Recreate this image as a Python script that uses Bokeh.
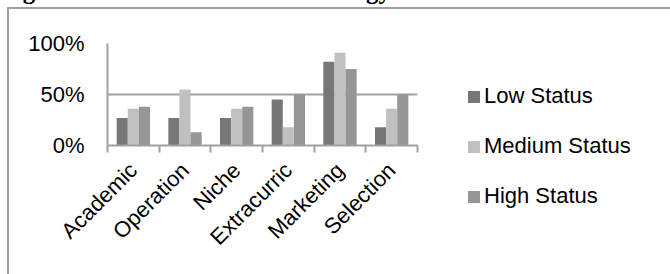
import math
from bokeh.plotting import figure
from bokeh.models import (ColumnDataSource, Range1d, FixedTicker, PrintfTickFormatter,
                          CustomJSTickFormatter, Legend, LegendItem)
from bokeh.transform import dodge
from bokeh.embed import file_html
from bokeh.resources import INLINE

title_text = "Figure 3: School Status and Strategy"
categories = ["Academic", "Operation", "Niche", "Extracurric", "Marketing", "Selection"]
low_status = [27, 27, 27, 45, 82, 18]
medium_status = [36, 55, 36, 18, 91, 36]
high_status = [38, 13, 38, 50, 75, 50]
series_names = ["Low Status", "Medium Status", "High Status"]
y_ticks = [0, 50, 100]

colors = ["#777777", "#c0c0c0", "#969696"]
FONT = "Liberation Sans"
LINE = "#a0a0a0"

TOP = 114      # height of the top panel (title area), partly hidden above the page
SHIFT = 71     # how far the canvas is pulled up so the frame starts at y=43

n = len(categories)
centers = [i + 0.5 for i in range(n)]
source = ColumnDataSource(dict(x=centers, cat=categories, low=low_status,
                               med=medium_status, high=high_status))

p = figure(frame_width=310, frame_height=102, output_backend="svg", toolbar_location=None,
           x_range=Range1d(0, n), y_range=Range1d(0, 100),
           min_border_left=107, min_border_right=245, min_border_top=TOP, min_border_bottom=129)
p.outline_line_color = None
p.background_fill_color = "white"
p.border_fill_color = None
p.styles = {
    "margin-top": "-%dpx" % SHIFT,
    "background": ("linear-gradient(%s,%s) 7px %dpx / 100%% 2px no-repeat, "
                   "linear-gradient(%s,%s) 7px %dpx / 2px 100%% no-repeat, white")
    % (LINE, LINE, SHIFT + 7, LINE, LINE, SHIFT + 7),
}

p.title.text = title_text
p.title.text_font = "Liberation Serif"
p.title.text_font_style = "bold"
p.title.text_font_size = "25px"
p.title.text_color = "black"
p.title.align = "left"
p.title.vertical_align = "bottom"
p.title.offset = -107
p.title.standoff = 79

bw = 0.215
r_low = p.vbar(x=dodge("x", -bw, range=p.x_range), top="low", width=bw, source=source,
               fill_color=colors[0], line_color=None)
r_med = p.vbar(x=dodge("x", 0, range=p.x_range), top="med", width=bw, source=source,
               fill_color=colors[1], line_color=None)
r_high = p.vbar(x=dodge("x", bw, range=p.x_range), top="high", width=bw, source=source,
                fill_color=colors[2], line_color=None)

# x axis
xa = p.xaxis[0]
xa.ticker = FixedTicker(ticks=centers, minor_ticks=list(range(n + 1)))
xa.formatter = CustomJSTickFormatter(args=dict(cats=categories),
                                     code="return cats[Math.floor(tick)];")
xa.major_label_orientation = math.pi / 4
xa.major_tick_line_color = None
xa.minor_tick_in = 0
xa.minor_tick_out = 7
xa.minor_tick_line_color = LINE
xa.minor_tick_line_width = 2
xa.axis_line_color = LINE
xa.axis_line_width = 2
xa.major_label_text_font = FONT
xa.major_label_text_font_size = "22px"
xa.major_label_text_color = "black"
xa.major_label_standoff = 14

# y axis
ya = p.yaxis[0]
ya.ticker = FixedTicker(ticks=y_ticks)
ya.formatter = PrintfTickFormatter(format="%d%%")
ya.major_tick_line_color = None
ya.minor_tick_line_color = None
ya.axis_line_color = LINE
ya.axis_line_width = 2
ya.major_label_text_font = FONT
ya.major_label_text_font_size = "22px"
ya.major_label_text_color = "black"
ya.major_label_standoff = 17

p.xgrid.visible = False
p.ygrid.grid_line_color = LINE
p.ygrid.grid_line_width = 2

legend = Legend(items=[LegendItem(label=series_names[0], renderers=[r_low]),
                       LegendItem(label=series_names[1], renderers=[r_med]),
                       LegendItem(label=series_names[2], renderers=[r_high])],
                location=(49, -64))
legend.label_text_font = FONT
legend.label_text_font_size = "22px"
legend.label_text_color = "black"
legend.glyph_width = 15
legend.glyph_height = 15
legend.label_height = 24
legend.spacing = 24
legend.padding = 0
legend.margin = 0
legend.label_standoff = 3
legend.border_line_color = None
legend.background_fill_alpha = 0
p.add_layout(legend, "right")

open("out.html", "w").write(file_html(p, INLINE))
